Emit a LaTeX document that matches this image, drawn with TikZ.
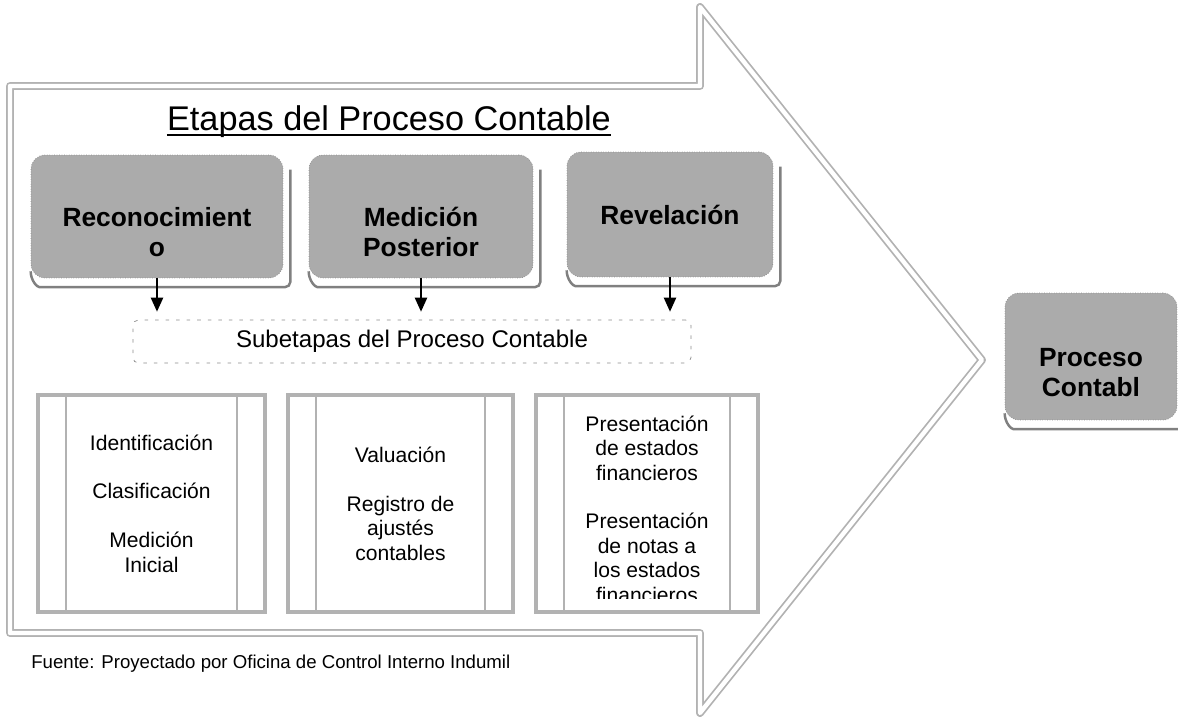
\documentclass[tikz,border=0pt]{standalone}
\usepackage{fontspec}
\setmainfont{Liberation Sans}
\usetikzlibrary{arrows.meta}

\begin{document}
\begin{tikzpicture}[x=0.02cm, y=-0.02cm]
        \tikzstyle{every node}=[inner sep=0pt, text=black]
        \tikzstyle{bigarrow}=[draw=black!30, line width=1pt, double=white, double distance=2.5pt, line join=round]
        \tikzstyle{stage}=[rectangle, rounded corners=8pt, fill=black!33, draw=black!45, densely dotted, align=center, font=\fontsize{15}{17.6}\selectfont\bfseries]
        \tikzstyle{twoline}=[text height=46.2pt]
        \tikzstyle{bracket}=[draw=black!50, line width=1.4pt, rounded corners=3pt]
        \tikzstyle{subbox}=[rectangle, draw=black!45, dash pattern=on 2pt off 4pt, rounded corners=3pt, minimum width=11.16cm, minimum height=0.86cm, font=\fontsize{13.7}{16}\selectfont]
        \tikzstyle{link}=[-{Triangle[width=7pt,length=8pt]}, line width=0.9pt, shorten >=0.16cm]
        \tikzstyle{subtext}=[align=center, font=\fontsize{12}{13.9}\selectfont]
        \tikzstyle{frame}=[rectangle, draw=black!30, line width=2pt, minimum height=4.34cm, subtext,
            path picture={\draw[black!30, line width=1.5pt]
                ([xshift=0.56cm]path picture bounding box.north west) -- ([xshift=0.56cm]path picture bounding box.south west)
                ([xshift=-0.56cm]path picture bounding box.north east) -- ([xshift=-0.56cm]path picture bounding box.south east);}]

        \useasboundingbox (0,0) rectangle (1178,717);

        % big arrow behind everything
        \draw[bigarrow] (10,86) -- (700,86) -- (700,7) -- (982,360) -- (700,713) -- (700,633) -- (10,633) -- cycle;

        \node[anchor=base, font=\fontsize{19.5}{22}\selectfont] (title) at (389,130) {Etapas del Proceso Contable};
        \draw[line width=0.9pt] ([yshift=-3pt]title.base west) -- ([yshift=-3pt]title.base east);

        \node[stage, minimum width=5.04cm, minimum height=2.46cm, twoline] (rec) at (157,216.5) {Reconocimient\\o};
        \node[stage, minimum width=4.48cm, minimum height=2.46cm, twoline] (med) at (421,216.5) {Medición\\Posterior};
        \node[stage, minimum width=4.12cm, minimum height=2.5cm]           (rev) at (670,214.5) {Revelación};
        \node[stage, minimum width=3.44cm, minimum height=2.54cm, twoline] (pro) at (1091,356.5) {Proceso\\Contabl};

        \foreach \b in {rec,med,rev,pro}
            \draw[bracket] ([yshift=4pt]\b.south west) to[out=-90,in=180] ([xshift=8pt,yshift=-5pt]\b.south west)
                -| ([xshift=4pt,yshift=-0.3cm]\b.north east);

        \node[subbox] (sub) at (412,341.5) {Subetapas del Proceso Contable};

        \foreach \b in {rec,med,rev}
            \draw[link] (\b.south) -- (\b.south |- sub.north);

        \node[frame, minimum width=4.54cm] (idn)  at (151.5,503.5) {Identificación\\[13.9pt]Clasificación\\[13.9pt]Medición\\Inicial};
        \node[frame, minimum width=4.5cm]  (val)  at (400.5,503.5) {Valuación\\[13.9pt]Registro de\\ajustés\\contables};
        \node[frame, minimum width=4.44cm] (pres) at (647,503.5) {};
        \begin{scope}
            \clip (pres.north west) rectangle ([yshift=0.3cm]pres.south east);
            \node[subtext] (prestxt) at ([yshift=-0.11cm]pres.center) {Presentación\\de estados\\financieros\\[13.9pt]Presentación\\de notas a\\los estados\\financieros};
        \end{scope}

        \node[anchor=base west, font=\fontsize{10.6}{12}\selectfont] (src) at (31,668) {Fuente: Proyectado por Oficina de Control Interno Indumil};
\end{tikzpicture}
\end{document}
